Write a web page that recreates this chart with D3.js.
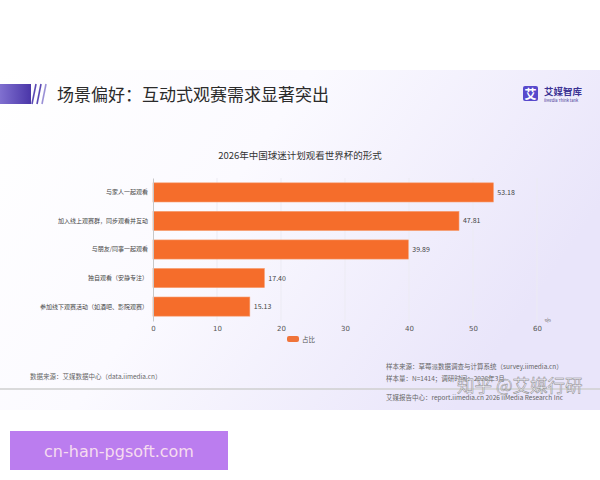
<!DOCTYPE html>
<html>
<head>
<meta charset="utf-8">
<script src="https://cdn.jsdelivr.net/npm/d3@7"></script>
<style>
  html, body { margin: 0; padding: 0; background: #fff; }
  svg { display: block; font-family: "Noto Sans CJK SC", "Noto Sans", sans-serif; }
</style>
</head>
<body>
<svg id="chart" width="600" height="480"></svg>
<script>
const categories = [
  '与家人一起观看',
  '加入线上观赛群，同步观看并互动',
  '与朋友/同事一起观看',
  '独自观看（安静专注）',
  '参加线下观赛活动（如酒吧、影院观赛）',
];
const values = [53.18, 47.81, 39.89, 17.40, 15.13];
const xTicks = [0, 10, 20, 30, 40, 50, 60];

const svg = d3.select('#chart');
const defs = svg.append('defs');

// slide background
const bg = defs.append('linearGradient').attr('id', 'bg')
  .attr('x1', '0').attr('y1', '0').attr('x2', '1').attr('y2', '0.4');
bg.append('stop').attr('offset', '0').attr('stop-color', '#ffffff');
bg.append('stop').attr('offset', '0.45').attr('stop-color', '#fbfaff');
bg.append('stop').attr('offset', '1').attr('stop-color', '#e9e5fa');

const bar = defs.append('linearGradient').attr('id', 'hbar')
  .attr('x1', '0').attr('x2', '1');
bar.append('stop').attr('offset', '0').attr('stop-color', '#8070d0');
bar.append('stop').attr('offset', '1').attr('stop-color', '#4a36a8');

svg.append('rect').attr('x', 0).attr('y', 70).attr('width', 600).attr('height', 340)
  .attr('fill', 'url(#bg)');

// header
svg.append('rect').attr('x', 0).attr('y', 84).attr('width', 31).attr('height', 20)
  .attr('fill', 'url(#hbar)');
[0, 5, 10].forEach(dx => {
  svg.append('line')
    .attr('x1', 36 + dx).attr('y1', 84).attr('x2', 32 + dx).attr('y2', 104)
    .attr('stroke', dx === 10 ? '#9a90d6' : '#5a48b4').attr('stroke-width', 1.6);
});
svg.append('text').attr('x', 57).attr('y', 101)
  .attr('font-size', 17).attr('fill', '#2b2b2b')
  .text('场景偏好：互动式观赛需求显著突出');

// logo
svg.append('rect').attr('x', 523).attr('y', 86).attr('width', 15).attr('height', 15)
  .attr('rx', 2).attr('fill', '#5849cc');
svg.append('text').attr('x', 530.5).attr('y', 98.5).attr('text-anchor', 'middle')
  .attr('font-size', 12).attr('font-weight', 'bold').attr('fill', '#fff').text('艾');
svg.append('text').attr('x', 544).attr('y', 95)
  .attr('font-size', 9.5).attr('font-weight', 'bold').attr('fill', '#3d3494').text('艾媒智库');
svg.append('text').attr('x', 544).attr('y', 102)
  .attr('font-size', 4).attr('fill', '#3d3494').text('iiMedia Think tank');

// chart title
svg.append('text').attr('x', 300).attr('y', 159).attr('text-anchor', 'middle')
  .attr('font-size', 9.5).attr('fill', '#333')
  .text('2026年中国球迷计划观看世界杯的形式');

const x = d3.scaleLinear().domain([0, 60]).range([153, 537]);
const y = d3.scaleBand().domain(categories).range([178, 321]).paddingInner(0.33).paddingOuter(0.17);

// grid
svg.append('g').selectAll('line').data(xTicks.slice(1)).join('line')
  .attr('x1', d => x(d)).attr('x2', d => x(d))
  .attr('y1', 178).attr('y2', 321)
  .attr('stroke', '#ecebf3').attr('stroke-width', 1);

// bars
svg.append('g').selectAll('rect').data(values).join('rect')
  .attr('x', x(0)).attr('y', (d, i) => y(categories[i]))
  .attr('width', d => x(d) - x(0)).attr('height', y.bandwidth())
  .attr('fill', '#f56d2b').attr('stroke', '#f79a6a').attr('stroke-width', 0.6);

// value labels
svg.append('g').selectAll('text').data(values).join('text')
  .attr('x', d => x(d) + 4).attr('y', (d, i) => y(categories[i]) + y.bandwidth() / 2 + 2.5)
  .attr('font-size', 7).attr('fill', '#444')
  .text(d => d.toFixed(2));

// y axis
const yAxis = svg.append('g').attr('transform', `translate(${x(0)},0)`)
  .call(d3.axisLeft(y).tickSize(0).tickPadding(5));
yAxis.select('.domain').attr('stroke', '#c8c8c8');
yAxis.selectAll('text').attr('font-size', 6).attr('fill', '#444')
  .style('font-family', '"Noto Sans CJK SC", sans-serif');

// x axis
const xAxis = svg.append('g').attr('transform', 'translate(0,321)')
  .call(d3.axisBottom(x).tickValues(xTicks).tickSize(0).tickPadding(5));
xAxis.select('.domain').remove();
xAxis.selectAll('text').attr('font-size', 7).attr('fill', '#555')
  .style('font-family', '"DejaVu Sans", sans-serif');

svg.append('text').attr('x', 549).attr('y', 322).attr('text-anchor', 'middle')
  .attr('font-size', 6).attr('fill', '#666')
  .attr('transform', 'rotate(-30,549,322)').text('%');

// legend
svg.append('rect').attr('x', 287).attr('y', 336).attr('width', 12).attr('height', 6)
  .attr('rx', 2).attr('fill', '#f0743a');
svg.append('text').attr('x', 302).attr('y', 341.5)
  .attr('font-size', 6.5).attr('fill', '#555').text('占比');

// footer
svg.append('text').attr('x', 30).attr('y', 379)
  .attr('font-size', 6.5).attr('fill', '#666').text('数据来源：艾媒数据中心（data.iimedia.cn）');
svg.append('text').attr('x', 386).attr('y', 369)
  .attr('font-size', 6.5).attr('fill', '#666').text('样本来源：草莓派数据调查与计算系统（survey.iimedia.cn）');
svg.append('text').attr('x', 386).attr('y', 381)
  .attr('font-size', 6.5).attr('fill', '#666').text('样本量：N=1414；调研时间：2026年3月');
svg.append('line').attr('x1', 0).attr('x2', 600).attr('y1', 389).attr('y2', 389)
  .attr('stroke', '#cfcfcf').attr('stroke-width', 1.5);
svg.append('text').attr('x', 386).attr('y', 400)
  .attr('font-size', 6.5).attr('fill', '#666').text('艾媒报告中心：report.iimedia.cn  2026 iiMedia Research Inc');

// zhihu watermark
svg.append('text').attr('x', 457).attr('y', 392)
  .attr('font-size', 17.5).attr('fill', '#ffffff').attr('fill-opacity', 0.55)
  .attr('stroke', '#8a8a8a').attr('stroke-width', 0.5)
  .text('知乎 @艾媒行研');

// site badge
svg.append('rect').attr('x', 10).attr('y', 431).attr('width', 218).attr('height', 39)
  .attr('fill', '#bb7def');
svg.append('text').attr('x', 119).attr('y', 456.5).attr('text-anchor', 'middle')
  .attr('font-size', 16).attr('fill', '#f6dcef')
  .style('font-family', '"DejaVu Sans", sans-serif')
  .text('cn-han-pgsoft.com');
</script>
</body>
</html>
